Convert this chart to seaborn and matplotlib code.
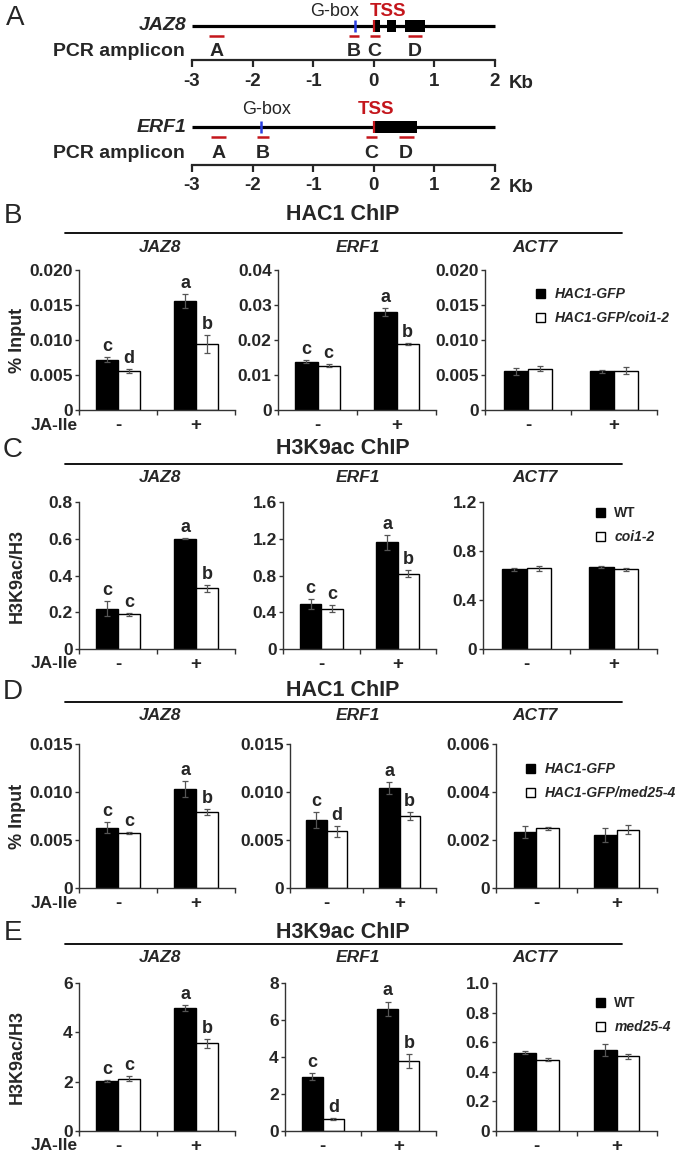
import numpy as np
import pandas as pd
import seaborn as sns
import matplotlib.pyplot as plt
from matplotlib.patches import Rectangle
from matplotlib.lines import Line2D

W, H = 677, 1157

# ---- panel A: gene models, positions in kb relative to the TSS
kb_ticks = [-3, -2, -1, 0, 1, 2]
jaz8_exons = [(0.0, 0.10), (0.22, 0.37), (0.52, 0.84)]
jaz8_gbox = -0.31
jaz8_amplicons = [(-2.72, -2.48), (-0.41, -0.24), (-0.07, 0.10), (0.56, 0.79)]
erf1_exons = [(0.0, 0.71)]
erf1_gbox = -1.86
erf1_amplicons = [(-2.68, -2.44), (-1.92, -1.73), (-0.13, 0.06), (0.41, 0.66)]
amplicon_names = ['A', 'B', 'C', 'D']

# ---- panels B-E: ChIP values, per gene in order (-,line1) (-,line2) (+,line1) (+,line2)
genes = ['JAZ8', 'ERF1', 'ACT7']
ja_ile = ['-', '+']

b_lines = ['HAC1-GFP', 'HAC1-GFP/coi1-2']
b_mean = [[0.0072, 0.0056, 0.0155, 0.0094],
          [0.0138, 0.0127, 0.0280, 0.0188],
          [0.0055, 0.0059, 0.0055, 0.0056]]
b_err = [[0.0004, 0.0003, 0.0010, 0.0013],
         [0.0004, 0.0003, 0.0012, 0.0002],
         [0.0005, 0.0004, 0.0002, 0.0005]]
b_sig = [['c', 'd', 'a', 'b'], ['c', 'c', 'a', 'b'], None]
b_ymax = [0.02, 0.04, 0.02]
b_step = [0.005, 0.01, 0.005]
b_dec = [3, 2, 3]

c_lines = ['WT', 'coi1-2']
c_mean = [[0.22, 0.19, 0.60, 0.33],
          [0.49, 0.44, 1.16, 0.82],
          [0.65, 0.66, 0.67, 0.65]]
c_err = [[0.04, 0.008, 0.004, 0.02],
         [0.05, 0.04, 0.08, 0.035],
         [0.015, 0.02, 0.01, 0.015]]
c_sig = [['c', 'c', 'a', 'b'], ['c', 'c', 'a', 'b'], None]
c_ymax = [0.8, 1.6, 1.2]
c_step = [0.2, 0.4, 0.4]
c_dec = [1, 1, 1]

d_lines = ['HAC1-GFP', 'HAC1-GFP/med25-4']
d_mean = [[0.0063, 0.0057, 0.0103, 0.0079],
          [0.0071, 0.0059, 0.0104, 0.0075],
          [0.00235, 0.00248, 0.0022, 0.00243]]
d_err = [[0.0006, 0.0001, 0.0008, 0.0003],
         [0.0008, 0.0006, 0.0006, 0.0004],
         [0.00025, 0.00008, 0.0003, 0.0002]]
d_sig = [['c', 'c', 'a', 'b'], ['c', 'd', 'a', 'b'], None]
d_ymax = [0.015, 0.015, 0.006]
d_step = [0.005, 0.005, 0.002]
d_dec = [3, 3, 3]

e_lines = ['WT', 'med25-4']
e_mean = [[2.02, 2.12, 5.0, 3.55],
          [2.93, 0.65, 6.6, 3.8],
          [0.53, 0.48, 0.545, 0.505]]
e_err = [[0.05, 0.1, 0.12, 0.18],
         [0.2, 0.07, 0.4, 0.38],
         [0.012, 0.01, 0.04, 0.018]]
e_sig = [['c', 'c', 'a', 'b'], ['c', 'd', 'a', 'b'], None]
e_ymax = [6, 8, 1.0]
e_step = [2, 2, 0.2]
e_dec = [0, 0, 1]

sns.set_style('ticks')
plt.rcParams['font.family'] = ['Liberation Sans', 'DejaVu Sans']
plt.rcParams['font.weight'] = 'bold'

RED = '#c4161c'
BLUE = '#2a3ee0'

fig = plt.figure(figsize=(W / 100, H / 100), dpi=100)


def ftext(x, y, s, **kw):
    return fig.text(x / W, 1 - y / H, s, **kw)


def px_axes(x0, y0, x1, y1):
    return fig.add_axes([x0 / W, 1 - y1 / H, (x1 - x0) / W, (y1 - y0) / H])


# ================= panel A =================
X0, PXKB = 192, 60.6     # pixel of -3 kb, pixels per kb
ax_a = fig.add_axes([0, 1 - 200 / H, 1, 200 / H])
ax_a.set_xlim(-3 - X0 / PXKB, -3 + (W - X0) / PXKB)
ax_a.set_ylim(200, 0)
ax_a.axis('off')

ftext(15, 18, 'A', fontsize=20, weight='normal', ha='center', va='center')


def gene_model(name, y, exons, gbox, amplicons, gbox_x, tss_x, lab_y, axis_y):
    ax_a.hlines(y, kb_ticks[0], kb_ticks[-1], color='black', lw=2.3)
    for s, e in exons:
        ax_a.add_patch(Rectangle((s, y - 6), e - s, 12, color='black', lw=0))
    ax_a.vlines(0, y - 6, y + 6, color=RED, lw=1.6)
    ax_a.vlines(gbox, y - 6, y + 6, color=BLUE, lw=1.8)
    for (s, e), nm in zip(amplicons, amplicon_names):
        ax_a.hlines(y + 10, s, e, color=RED, lw=1.8)
        ax_a.text((s + e) / 2, y + 26, nm, ha='center', va='center', fontsize=14)
    ftext(187, y, name, ha='right', va='center', fontsize=14, style='italic')
    ftext(185, y + 26, 'PCR amplicon', ha='right', va='center', fontsize=14)
    ftext(gbox_x, lab_y, 'G-box', ha='center', va='center', fontsize=13, weight='normal')
    ftext(tss_x, lab_y, 'TSS', ha='center', va='center', fontsize=13.5, color=RED)
    sc = px_axes(X0, axis_y - 1, X0 + 5 * PXKB, axis_y)
    sc.set_xlim(kb_ticks[0], kb_ticks[-1])
    sc.set_yticks([])
    for sp in ['left', 'right', 'top']:
        sc.spines[sp].set_visible(False)
    sc.spines['bottom'].set_linewidth(1.6)
    sc.set_xticks(kb_ticks, [str(t) for t in kb_ticks])
    sc.tick_params(axis='x', length=5, width=1.6, labelsize=13.5, pad=4)
    ftext(X0 + 5 * PXKB + 14, axis_y + 23, 'Kb', ha='left', va='center', fontsize=13.5)


gene_model('JAZ8', 26, jaz8_exons, jaz8_gbox, jaz8_amplicons, 335, 388, 12, 60)
gene_model('ERF1', 127, erf1_exons, erf1_gbox, erf1_amplicons, 267, 376, 110, 165)

# ================= panels B-E =================
rights = [235, 436, 657]
gene_x = [160, 358, 535]
rows = [
    dict(letter='B', title='HAC1 ChIP', ylabel='% Input', letter_y=216, rule_y=233, gene_y=248,
         top=270, bottom=410, lefts=[79, 278, 485], leg=(536, 293),
         lines=b_lines, mean=b_mean, err=b_err, sig=b_sig, ymax=b_ymax, step=b_step, dec=b_dec),
    dict(letter='C', title='H3K9ac ChIP', ylabel='H3K9ac/H3', letter_y=450, rule_y=464, gene_y=478,
         top=502, bottom=649, lefts=[79, 283, 483], leg=(596, 512),
         lines=c_lines, mean=c_mean, err=c_err, sig=c_sig, ymax=c_ymax, step=c_step, dec=c_dec),
    dict(letter='D', title='HAC1 ChIP', ylabel='% Input', letter_y=692, rule_y=702, gene_y=716,
         top=744, bottom=888, lefts=[79, 290, 496], leg=(526, 768),
         lines=d_lines, mean=d_mean, err=d_err, sig=d_sig, ymax=d_ymax, step=d_step, dec=d_dec),
    dict(letter='E', title='H3K9ac ChIP', ylabel='H3K9ac/H3', letter_y=933, rule_y=944, gene_y=958,
         top=983, bottom=1131, lefts=[79, 285, 496], leg=(596, 1002),
         lines=e_lines, mean=e_mean, err=e_err, sig=e_sig, ymax=e_ymax, step=e_step, dec=e_dec),
]


def tick_fmt(v, d):
    return '0' if v == 0 else f'{v:.{d}f}'


def bar_panel(ax, lines, means, errs, sigs, ymax, step, dec):
    df = pd.DataFrame({
        'treat': [t for t in ja_ile for _ in lines],
        'line': [g for _ in ja_ile for g in lines],
        'val': means,
        'err': errs,
        'sig': sigs if sigs else [''] * 4,
    })
    sns.barplot(data=df, x='treat', y='val', hue='line', order=ja_ile, hue_order=lines,
                palette=['black', 'white'], saturation=1, edgecolor='black', linewidth=1,
                width=0.56, errorbar=None, legend=False, ax=ax)
    for cont, g in zip(ax.containers, lines):
        for bar, t in zip(cont, ja_ile):
            r = df[(df.treat == t) & (df.line == g)].iloc[0]
            xc = bar.get_x() + bar.get_width() / 2
            ax.errorbar(xc, r.val, yerr=r.err, color='#555555', lw=0.9,
                        capsize=2, capthick=0.9, zorder=4)
            if r.sig:
                ax.annotate(r.sig, (xc, r.val + r.err), xytext=(0, 1.5),
                            textcoords='offset points', ha='center', va='bottom',
                            fontsize=13)
    ax.set_ylim(0, ymax)
    n = int(round(ymax / step))
    ticks = [k * step for k in range(n + 1)]
    ax.set_yticks(ticks, [tick_fmt(v, dec) for v in ticks])
    ax.set_xlim(-0.5, 1.5)
    ax.set_xticks([0, 1], ja_ile)
    ax.set_xticks([-0.5, 0.5, 1.5], minor=True)
    ax.tick_params(axis='x', which='major', length=0, labelsize=13.5, pad=5)
    ax.tick_params(axis='x', which='minor', length=3.5, width=1, color='#333333')
    ax.tick_params(axis='y', length=3, width=1, labelsize=12.5, pad=1.5, color='#333333')
    ax.set_xlabel('')
    ax.set_ylabel('')
    sns.despine(ax=ax)
    for sp in ['left', 'bottom']:
        ax.spines[sp].set_color('#333333')
        ax.spines[sp].set_linewidth(1)
    return ax


for row in rows:
    ftext(13, row['letter_y'], row['letter'], fontsize=20, weight='normal',
          ha='center', va='center')
    ftext(343, row['letter_y'] - 1, row['title'], fontsize=15.5, ha='center', va='center')
    fig.add_artist(Line2D([65 / W, 622 / W], [1 - row['rule_y'] / H] * 2,
                          color='black', lw=1.3, transform=fig.transFigure))
    axes = []
    for i, gene in enumerate(genes):
        ftext(gene_x[i], row['gene_y'], gene, style='italic', fontsize=12.5,
              ha='center', va='center')
        ax = px_axes(row['lefts'][i], row['top'], rights[i], row['bottom'])
        bar_panel(ax, row['lines'], row['mean'][i], row['err'][i], row['sig'][i],
                  row['ymax'][i], row['step'][i], row['dec'][i])
        axes.append(ax)
    ftext(54, row['bottom'] + 15, 'JA-Ile', fontsize=12.5, ha='center', va='center')
    ftext(17, (row['top'] + row['bottom']) / 2, row['ylabel'], fontsize=13,
          rotation=90, ha='center', va='center')
    handles = [c[0] for c in axes[0].containers]
    lx, ly = row['leg']
    leg = fig.legend(handles, row['lines'], loc='upper left',
                     bbox_to_anchor=(lx / W, 1 - (ly - 6) / H), frameon=False,
                     fontsize=10, handlelength=0.62, handleheight=0.62,
                     handletextpad=0.7, labelspacing=0.75, borderpad=0, borderaxespad=0)
    for t in leg.get_texts():
        if t.get_text() != 'WT':
            t.set_style('italic')

fig.savefig('out.png', dpi=100)
